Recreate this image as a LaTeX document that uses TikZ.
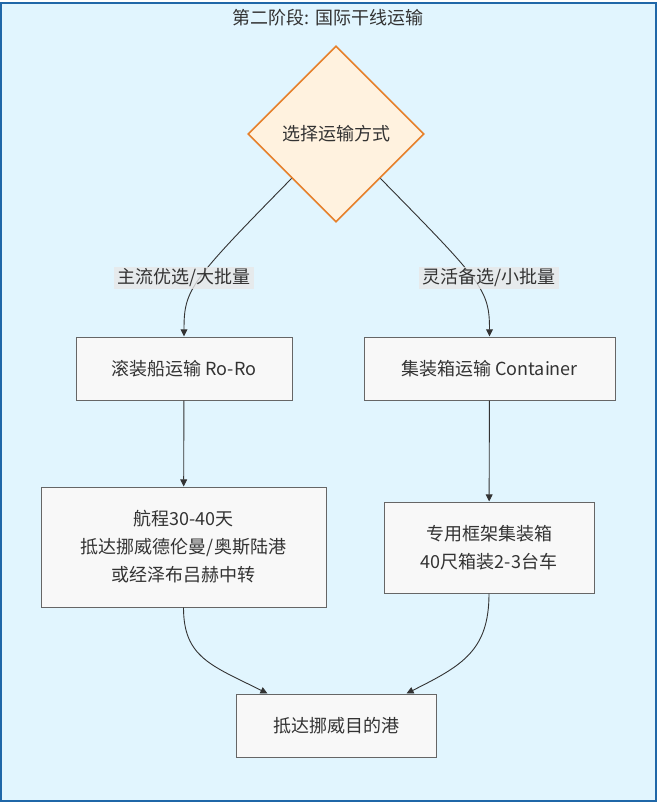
\documentclass[tikz,border=0pt]{standalone}
\usepackage{fontspec}
\setmainfont{Noto Sans CJK SC}
\usetikzlibrary{arrows.meta,shapes.geometric}
\definecolor{himmel}{HTML}{E1F5FE}
\definecolor{rand}{HTML}{1F67A8}
\definecolor{rautef}{HTML}{FFF2DF}
\definecolor{rauter}{HTML}{E6802A}
\definecolor{kastenf}{HTML}{F8F8F8}
\definecolor{kastenr}{HTML}{666666}
\definecolor{schrift}{HTML}{333333}
\definecolor{markef}{HTML}{E8E8E8}
\tikzset{
  rahmen/.style={fill=himmel,draw=rand,line width=2pt},
  raute/.style={diamond,aspect=1,minimum width=176pt,minimum height=176pt,inner sep=0pt,fill=rautef,draw=rauter,line width=1.6pt,text=schrift},
  kasten/.style={rectangle,fill=kastenf,draw=kastenr,line width=1pt,align=center,text=schrift,inner sep=0pt},
  pfeil/.style={-{Triangle[length=2.5mm,width=2.4mm]},schrift,line width=0.9pt},
  marke/.style={fill=markef,fill opacity=0.8,text opacity=1,text=schrift,inner xsep=3pt,inner ysep=1.5pt},
}

\begin{document}
\begin{tikzpicture}[x=1pt,y=-1pt,every node/.style={font=\fontsize{18}{28}\selectfont}]
  \useasboundingbox (0,0) rectangle (657,803);
  \draw[rahmen] (1,2.5) rectangle (655.5,801);
  \node[text=schrift] (titel) at (328,18) {第二阶段: 国际干线运输};
  % Entscheidung und die beiden Wege
  \node[raute] (wahl) at (336,134) {选择运输方式};
  \node[kasten,minimum width=216pt,minimum height=63pt] (roro) at (184,368.5) {滚装船运输 Ro-Ro};
  \node[kasten,minimum width=251pt,minimum height=63pt] (cont) at (489.5,368.5) {集装箱运输 Container};
  \node[kasten,minimum width=285pt,minimum height=120pt] (roroinfo) at (183.5,547)
    {航程30-40天\\抵达挪威德伦曼/奥斯陆港\\或经泽布吕赫中转};
  \node[kasten,minimum width=210pt,minimum height=91pt] (continfo) at (489,547.5)
    {专用框架集装箱\\40尺箱装2-3台车};
  \node[kasten,minimum width=200pt,minimum height=63pt] (hafen) at (336,725.5) {抵达挪威目的港};
  \coordinate (hafenl) at ([xshift=32pt]hafen.north west);
  \coordinate (hafenr) at ([xshift=-30pt]hafen.north east);
  \draw[pfeil] (wahl.south west) .. controls +(-102,104) and +(0,-47) .. (roro.north);
  \draw[pfeil] (wahl.south east) .. controls +(102,104) and +(0,-47) .. (cont.north);
  \node[marke] (hauptweg) at (184,278) {主流优选/大批量};
  \node[marke] (nebenweg) at (489,278) {灵活备选/小批量};
  \draw[pfeil] (roro) -- (roroinfo);
  \draw[pfeil] (cont) -- (continfo);
  % Zusammenfuehrung am Zielhafen
  \draw[pfeil] (roroinfo.south) .. controls +(0,50) and +(-56,-28) .. (hafenl);
  \draw[pfeil] (continfo.south) .. controls +(0,57) and +(56,-28) .. (hafenr);
\end{tikzpicture}
\end{document}
